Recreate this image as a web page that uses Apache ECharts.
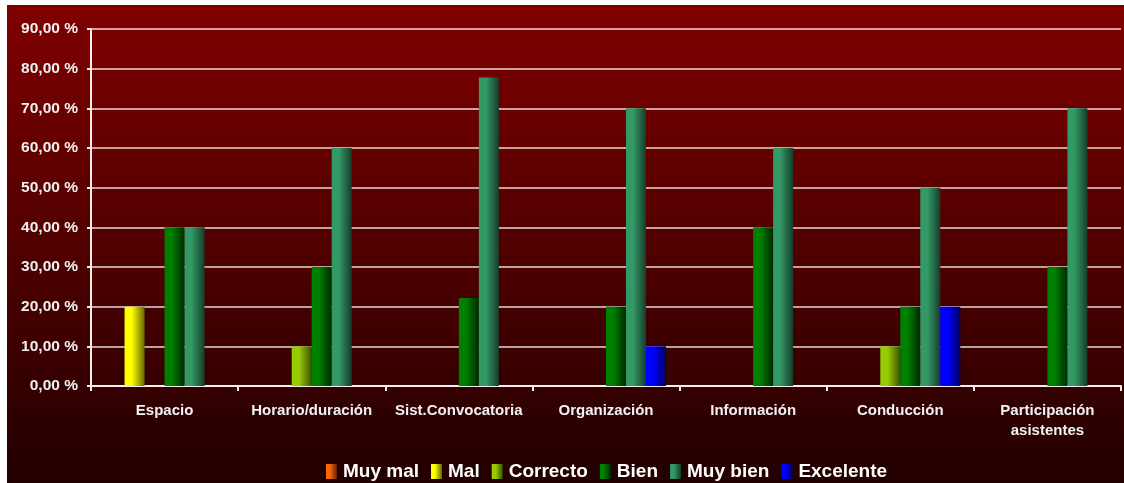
<!DOCTYPE html>
<html>
<head>
<meta charset="utf-8">
<script src="https://cdn.jsdelivr.net/npm/echarts@6/dist/echarts.min.js"></script>
<style>
  html, body { margin: 0; padding: 0; background: #fff; }
  #chart { position: absolute; left: 7px; top: 5px; width: 1117px; height: 478px; }
</style>
</head>
<body>
<div id="chart"></div>
<script>
// categorias y valores (%)
var categorias = ['Espacio', 'Horario/duración', 'Sist.Convocatoria', 'Organización', 'Información', 'Conducción', 'Participación\nasistentes'];
var muyMal    = [null, null, null, null, null, null, null];
var mal       = [20, null, null, null, null, null, null];
var correcto  = [null, 10, null, null, null, 10, null];
var bien      = [40, 30, 22.2, 20, 40, 20, 30];
var muyBien   = [40, 60, 77.8, 70, 60, 50, 70];
var excelente = [null, null, null, 10, null, 20, null];
var yTicks = [0, 10, 20, 30, 40, 50, 60, 70, 80, 90];

// degradado horizontal de cada barra
function degradado(claro, oscuro) {
    return new echarts.graphic.LinearGradient(0, 0, 1, 0, [
        {offset: 0, color: claro},
        {offset: 0.35, color: claro},
        {offset: 1, color: oscuro}
    ]);
}

function serie(nombre, datos, claro, oscuro) {
    return {
        name: nombre,
        type: 'bar',
        barWidth: 20,
        barGap: '0%',
        itemStyle: { color: degradado(claro, oscuro) },
        data: datos
    };
}

var myChart = echarts.init(document.getElementById('chart'));
var option = {
    animation: false,
    backgroundColor: new echarts.graphic.LinearGradient(0, 0, 0, 1, [
        {offset: 0, color: '#800000'},
        {offset: 1, color: '#220000'}
    ]),
    textStyle: { fontFamily: 'Liberation Sans, Arial, sans-serif' },
    grid: { left: 84, top: 24, right: 3, bottom: 97 },
    legend: {
        left: 314,
        top: 452,
        icon: 'rect',
        itemWidth: 11,
        itemHeight: 15,
        itemGap: 12,
        textStyle: { color: '#ffffff', fontSize: 19, fontWeight: 'bold', padding: [0, 0, 0, 1] },
        data: ['Muy mal', 'Mal', 'Correcto', 'Bien', 'Muy bien', 'Excelente']
    },
    xAxis: {
        type: 'category',
        data: categorias,
        axisLine: { lineStyle: { color: '#f4eeee', width: 2 } },
        axisTick: { show: true, length: 5, lineStyle: { color: '#f4eeee', width: 2 } },
        axisLabel: { color: '#f2f2f2', fontSize: 15, fontWeight: 'bold', margin: 15, lineHeight: 20, interval: 0 }
    },
    yAxis: {
        type: 'value',
        min: yTicks[0],
        max: yTicks[yTicks.length - 1],
        interval: 10,
        axisLine: { show: true, lineStyle: { color: '#f4eeee', width: 2 } },
        axisTick: { show: true, length: 4, lineStyle: { color: '#f4eeee', width: 2 } },
        axisLabel: {
            color: '#f2f2f2', fontSize: 15.5, fontWeight: 'bold', margin: 13,
            formatter: function (v) { return v.toFixed(2).replace('.', ',') + ' %'; }
        },
        splitLine: { lineStyle: { color: 'rgba(255,255,255,0.85)', width: 1.5 } }
    },
    series: [
        serie('Muy mal', muyMal, '#ff6600', '#662200'),
        serie('Mal', mal, '#ffff00', '#666600'),
        serie('Correcto', correcto, '#99cc00', '#3d5200'),
        serie('Bien', bien, '#008000', '#002a00'),
        serie('Muy bien', muyBien, '#339966', '#163d2b'),
        serie('Excelente', excelente, '#0000ff', '#000060')
    ]
};
myChart.setOption(option);
</script>
</body>
</html>
